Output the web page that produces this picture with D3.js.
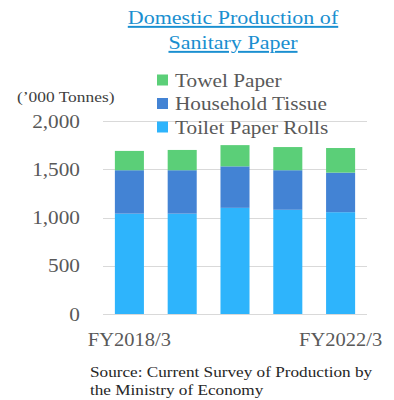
<!DOCTYPE html>
<html>
<head>
<meta charset="utf-8">
<script src="https://cdn.jsdelivr.net/npm/d3@7"></script>
<style>
body { margin: 0; background: #fff; }
svg { display: block; font-family: "Liberation Serif", "Times New Roman", serif; }
</style>
</head>
<body>
<svg width="394" height="400"></svg>
<script>
var years = ["FY2018/3", "FY2019/3", "FY2020/3", "FY2021/3", "FY2022/3"];
var toilet = [1040, 1040, 1100, 1080, 1055];
var household = [450, 450, 430, 410, 410];
var towel = [200, 210, 220, 240, 255];
var yTicks = [0, 500, 1000, 1500, 2000];
var seriesNames = ["Toilet Paper Rolls", "Household Tissue", "Towel Paper"];
var colors = ["#2eb4fc", "#4383d4", "#5bcf78"];

var svg = d3.select("svg");
var textColor = "#595959";
var sx = 1.11; // text in the picture is a bit wide

function place(x, y, s) {
	return "translate(" + x + "," + y + ") scale(" + (s || sx) + ",1)";
}

var rows = years.map(function(d, i) {
	return { year: d, t: toilet[i], h: household[i], w: towel[i] };
});
var stack = d3.stack().keys(["t", "h", "w"])(rows);

var x = d3.scaleBand().domain(years).range([103, 367]).paddingInner(0.45).paddingOuter(0.225);
var y = d3.scaleLinear().domain([0, 2000]).range([314, 121]);

// gridlines
svg.append("g")
	.selectAll("line")
	.data(yTicks)
	.enter()
	.append("line")
		.attr("x1", 103).attr("x2", 367)
		.attr("y1", function(d) { return Math.round(y(d)) + 0.5; })
		.attr("y2", function(d) { return Math.round(y(d)) + 0.5; })
		.attr("stroke", "#d9d9d9")
		.attr("stroke-width", 1);

// y labels
svg.append("g")
	.selectAll("text")
	.data(yTicks)
	.enter()
	.append("text")
		.attr("transform", function(d) { return place(80, y(d) + 6.5, 1.12); })
		.attr("text-anchor", "end")
		.attr("font-size", 19)
		.attr("fill", textColor)
		.text(function(d) { return d3.format(",")(d); });

// bars
svg.append("g")
	.selectAll("g")
	.data(stack)
	.enter()
	.append("g")
		.attr("fill", function(d, i) { return colors[i]; })
	.selectAll("rect")
	.data(function(d) { return d; })
	.enter()
	.append("rect")
		.attr("x", function(d) { return x(d.data.year); })
		.attr("width", x.bandwidth())
		.attr("y", function(d) { return y(d[1]); })
		.attr("height", function(d) { return y(d[0]) - y(d[1]); });

// x labels (first and last only)
svg.append("g")
	.selectAll("text")
	.data([years[0], years[years.length - 1]])
	.enter()
	.append("text")
		.attr("transform", function(d) { return place(x(d) + x.bandwidth() / 2, 346, 1.08); })
		.attr("text-anchor", "middle")
		.attr("font-size", 19)
		.attr("fill", textColor)
		.text(function(d) { return d; });

// legend (reverse order)
var legend = svg.append("g")
	.selectAll("g")
	.data([2, 1, 0])
	.enter()
	.append("g")
		.attr("transform", function(d, i) { return "translate(157," + (80 + i * 23.5) + ")"; });
legend.append("rect")
	.attr("x", 0).attr("y", -5.5)
	.attr("width", 11).attr("height", 11)
	.attr("fill", function(d) { return colors[d]; });
legend.append("text")
	.attr("transform", place(18, 6.5, 1.12))
	.attr("font-size", 19)
	.attr("fill", textColor)
	.text(function(d) { return seriesNames[d]; });

// unit
svg.append("text")
	.attr("transform", place(17, 102, 1.2))
	.attr("font-size", 14.5)
	.attr("fill", "#404040")
	.text("(’000 Tonnes)");

// title
svg.append("text")
	.attr("transform", place(233, 24, 1.13))
	.attr("text-anchor", "middle")
	.attr("font-size", 19.5)
	.attr("fill", "#1a8fd0")
	.attr("text-decoration", "underline")
	.text("Domestic Production of");
svg.append("text")
	.attr("transform", place(233, 49, 1.13))
	.attr("text-anchor", "middle")
	.attr("font-size", 19.5)
	.attr("fill", "#1a8fd0")
	.attr("text-decoration", "underline")
	.text("Sanitary Paper");

// source
svg.append("text")
	.attr("transform", place(90, 377, 1.11))
	.attr("font-size", 15.5)
	.attr("fill", "#262626")
	.text("Source: Current Survey of Production by");
svg.append("text")
	.attr("transform", place(90, 395, 1.11))
	.attr("font-size", 15.5)
	.attr("fill", "#262626")
	.text("the Ministry of Economy");
</script>
</body>
</html>
